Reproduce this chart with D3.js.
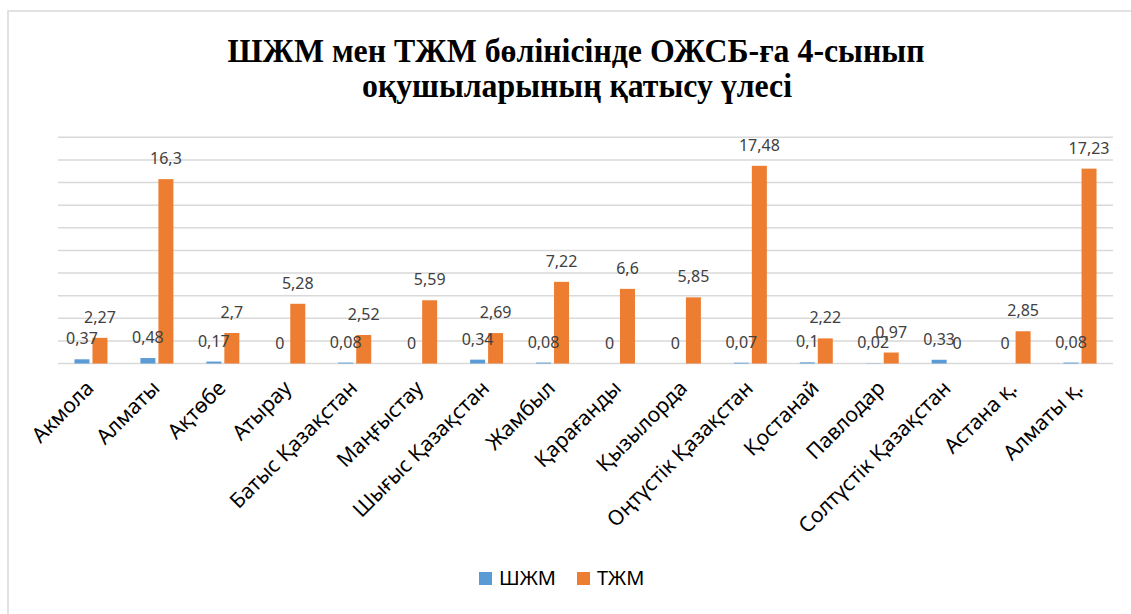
<!DOCTYPE html>
<html>
<head>
<meta charset="utf-8">
<script src="https://cdn.jsdelivr.net/npm/d3@7"></script>
<style>
  body { margin: 0; background: #fff; }
</style>
</head>
<body>
<div id="chart"></div>
<script>
const regions = ["Акмола", "Алматы", "Ақтөбе", "Атырау", "Батыс Қазақстан", "Маңғыстау",
  "Шығыс Қазақстан", "Жамбыл", "Қарағанды", "Қызылорда", "Оңтүстік Қазақстан", "Қостанай",
  "Павлодар", "Солтүстік Қазақстан", "Астана қ.", "Алматы қ."];
const shzhm = [0.37, 0.48, 0.17, 0, 0.08, 0, 0.34, 0.08, 0, 0, 0.07, 0.1, 0.02, 0.33, 0, 0.08];
const tzhm = [2.27, 16.3, 2.7, 5.28, 2.52, 5.59, 2.69, 7.22, 6.6, 5.85, 17.48, 2.22, 0.97, 0, 2.85, 17.23];
const seriesNames = ["ШЖМ", "ТЖМ"];
const colors = ["#5b9bd5", "#ed7d31"];

function draw() {
  const dimensions = { width: 1131, height: 614 };
  const plot = { left: 58, right: 1113, top: 137.3, bottom: 363.5 };

  const svg = d3.select("#chart").append("svg")
    .attr("width", dimensions.width)
    .attr("height", dimensions.height);

  // chart frame
  svg.append("rect")
    .attr("x", 8).attr("y", 11)
    .attr("width", 1140).attr("height", 620)
    .attr("fill", "none")
    .attr("stroke", "#d9d9d9")
    .attr("stroke-width", 1.5);

  // title
  const title = svg.append("g")
    .attr("font-family", "'Liberation Serif', 'Times New Roman', serif")
    .attr("font-weight", "bold")
    .attr("font-size", 34)
    .attr("fill", "#000")
    .attr("text-anchor", "middle");
  title.append("text").attr("x", 576).attr("y", 62)
    .attr("textLength", 697).attr("lengthAdjust", "spacingAndGlyphs")
    .text("ШЖМ мен ТЖМ бөлінісінде ОЖСБ-ға 4-сынып");
  title.append("text").attr("x", 577).attr("y", 97)
    .attr("textLength", 430).attr("lengthAdjust", "spacingAndGlyphs")
    .text("оқушыларының қатысу үлесі");

  const x = d3.scaleBand().domain(regions).range([plot.left, plot.right]).padding(0);
  const xs = d3.scaleBand().domain(seriesNames).range([-16.5, 16.5]).paddingInner(0.167);
  const y = d3.scaleLinear().domain([0, 20]).range([plot.bottom, plot.top]);

  // gridlines
  svg.append("g")
    .selectAll("line")
    .data(y.ticks(10))
    .join("line")
    .attr("x1", plot.left).attr("x2", plot.right)
    .attr("y1", d => y(d)).attr("y2", d => y(d))
    .attr("stroke", "#d9d9d9")
    .attr("stroke-width", 1.5);

  const rows = regions.map((r, i) => ({ region: r, values: [shzhm[i], tzhm[i]] }));

  const groups = svg.append("g")
    .selectAll("g")
    .data(rows)
    .join("g")
    .attr("transform", d => `translate(${x(d.region) + x.bandwidth() / 2},0)`);

  const cells = d => d.values.map((v, j) => ({ name: seriesNames[j], value: v, color: colors[j] }));

  groups.selectAll("rect")
    .data(cells)
    .join("rect")
    .attr("x", d => xs(d.name))
    .attr("width", xs.bandwidth())
    .attr("y", d => y(d.value))
    .attr("height", d => y(0) - y(d.value))
    .attr("fill", d => d.color);

  groups.selectAll("text")
    .data(cells)
    .join("text")
    .attr("x", d => xs(d.name) + xs.bandwidth() / 2)
    .attr("y", d => y(d.value) - 15)
    .attr("text-anchor", "middle")
    .attr("font-family", "'Noto Sans', sans-serif")
    .attr("font-size", 16)
    .attr("fill", "#404040")
    .text(d => String(d.value).replace(".", ","));

  // category labels
  svg.append("g")
    .selectAll("text")
    .data(regions)
    .join("text")
    .attr("transform", d => `translate(${x(d) + x.bandwidth() / 2 + 4},${plot.bottom + 26}) rotate(-45)`)
    .attr("text-anchor", "end")
    .attr("font-family", "'Noto Sans', sans-serif")
    .attr("font-size", 21)
    .attr("fill", "#000")
    .text(d => d);

  // legend
  const legend = svg.append("g")
    .selectAll("g")
    .data(seriesNames)
    .join("g")
    .attr("transform", (d, i) => `translate(${479 + i * 98},572)`);
  legend.append("rect")
    .attr("width", 13).attr("height", 13)
    .attr("fill", (d, i) => colors[i]);
  legend.append("text")
    .attr("x", 20).attr("y", 13)
    .attr("font-family", "'Noto Sans', sans-serif")
    .attr("font-size", 20)
    .attr("fill", "#000")
    .text(d => d);
}
draw();
</script>
</body>
</html>
